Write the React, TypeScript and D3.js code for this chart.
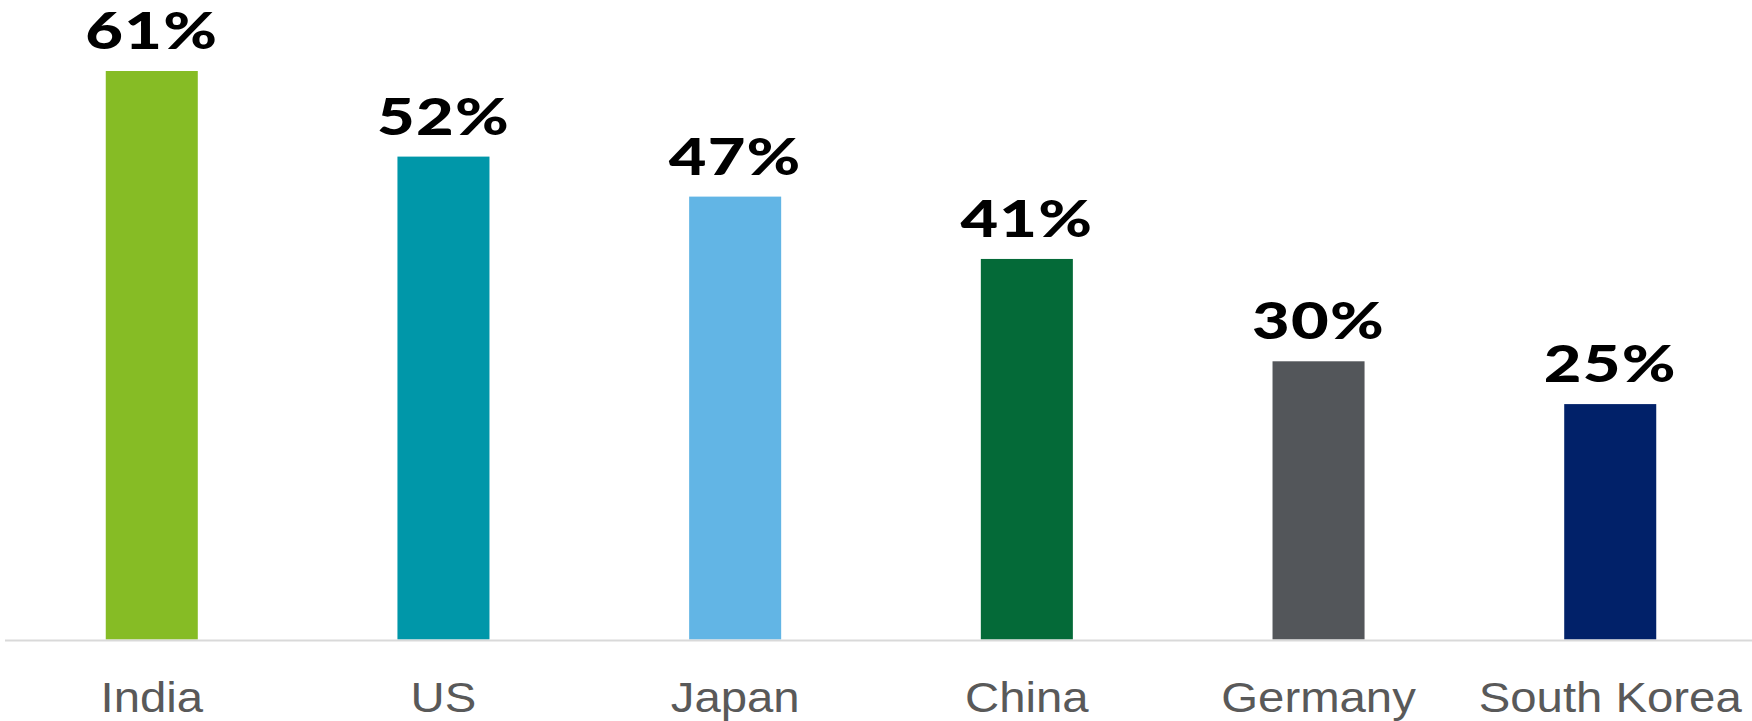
import React from "react";
import * as d3 from "d3";

const categories = ["India", "US", "Japan", "China", "Germany", "South Korea"];
const values = [61.1, 51.9, 47.6, 40.9, 29.9, 25.3];
const valueLabels = ["61%", "52%", "47%", "41%", "30%", "25%"];
const colors = ["#86BC25", "#0097A9", "#62B5E5", "#046A38", "#53565A", "#012169"];

const W = 1752;
const H = 721;
const baseY = 639.5;

export default function App() {
  const x = d3
    .scaleBand<string>()
    .domain(categories)
    .range([6, 1756])
    .paddingInner(0.6845)
    .paddingOuter(0.342);
  const y = d3.scaleLinear().domain([0, 61.1]).range([baseY, 71]);
  const bw = x.bandwidth();

  return (
    <svg
      width={W}
      height={H}
      style={{ position: "absolute", left: 0, top: 0, background: "#fff" }}
    >
      {categories.map((c, i) => (
        <rect
          key={c}
          x={x(c)}
          y={y(values[i])}
          width={bw}
          height={y(0) - y(values[i])}
          fill={colors[i]}
        />
      ))}
      <line x1={5} x2={W} y1={640.5} y2={640.5} stroke="#d9d9d9" strokeWidth={2} />
      {categories.map((c, i) => {
        const cx = (x(c) as number) + bw / 2;
        return (
          <text
            key={"v" + c}
            transform={`translate(${cx},${y(values[i]) - 22}) scale(1.25,1)`}
            textAnchor="middle"
            fontFamily="Lato"
            fontWeight={900}
            fontSize={52}
            letterSpacing={1}
            fill="#000"
          >
            {valueLabels[i]}
          </text>
        );
      })}
      {categories.map((c, i) => {
        const cx = (x(c) as number) + bw / 2;
        return (
          <text
            key={"c" + c}
            transform={`translate(${cx},712) scale(1.1,1)`}
            textAnchor="middle"
            fontFamily="Liberation Sans"
            fontSize={43}
            fill="#595959"
          >
            {c}
          </text>
        );
      })}
    </svg>
  );
}
